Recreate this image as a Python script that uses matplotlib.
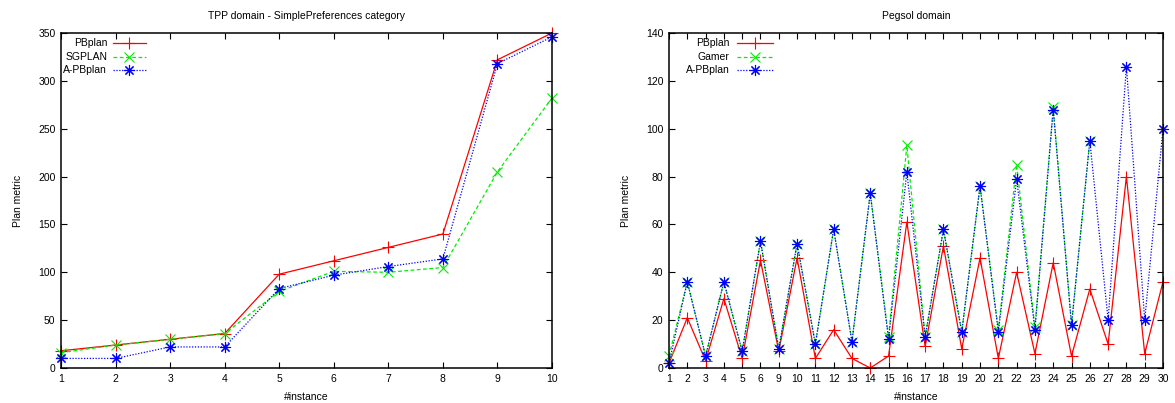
import matplotlib
matplotlib.use("Agg")
import matplotlib.pyplot as plt
import numpy as np

plt.rcParams['font.family'] = ['Liberation Sans', 'DejaVu Sans']
plt.rcParams['font.size'] = 7.5

# TPP domain - SimplePreferences
tpp_instances = [1, 2, 3, 4, 5, 6, 7, 8, 9, 10]
tpp_pbplan = [18, 24, 30, 36, 98, 112, 126, 140, 322, 350]
tpp_sgplan = [16, 24, 30, 36, 80, 101, 100, 105, 205, 282]
tpp_apbplan = [10, 10, 22, 22, 83, 97, 106, 114, 318, 346]

# Pegsol domain (instances 7 and 8 absent)
peg_instances = [1, 2, 3, 4, 5, 6, 9, 10, 11, 12, 13, 14, 15, 16, 17, 18, 19,
                 20, 21, 22, 23, 24, 25, 26, 27, 28, 29, 30]
peg_pbplan = [2, 21, 3, 29, 4, 45, 7, 46, 4, 16, 4, 0, 5, 61, 9, 51, 8,
              46, 4, 40, 6, 44, 5, 33, 10, 80, 6, 36]
peg_gamer = [5, 36, 5, 36, 7, 53, 8, 52, 10, 58, 11, 73, 13, 93, 13, 58, 15,
             76, 16, 85, 17, 109, 18, 95, None, None, None, None]
peg_apbplan = [2, 36, 5, 36, 7, 53, 8, 52, 10, 58, 11, 73, 12, 82, 13, 58, 15,
               76, 15, 79, 16, 108, 18, 95, 20, 126, 20, 100]

RED, GREEN, BLUE = '#ff0000', '#00ee00', '#0000ff'
ASTERISK = (8, 2, 0)

styles = [
    dict(color=RED, ls='-', marker='+', ms=8, mew=0.8),
    dict(color=GREEN, ls=(0, (3, 2)), marker='x', ms=7, mew=0.8),
    dict(color=BLUE, ls=(0, (1, 1.3)), marker=ASTERISK, ms=8, mew=0.8),
]

fig = plt.figure(figsize=(11.75, 4.03), dpi=100)
W, H = 1175, 403


def make_axes(x0, x1, y0, y1):
    return fig.add_axes([x0 / W, 1 - y1 / H, (x1 - x0) / W, (y1 - y0) / H])


def style_axes(ax):
    for s in ax.spines.values():
        s.set_linewidth(1.1)
    ax.tick_params(direction='in', length=4, width=0.8, top=True, right=True,
                   labelsize=7.5, pad=4)


def key(ax, names, text_right, line_l, line_r, rows):
    # gnuplot-style key: right aligned label followed by the line sample
    for name, st, y in zip(names, styles, rows):
        ax.text(text_right, y, name, transform=ax.transAxes, ha='right',
                va='center', fontsize=7.5)
        ax.plot([line_l, line_r], [y, y], transform=ax.transAxes,
                color=st['color'], ls=st['ls'], lw=0.9, clip_on=False)
        ax.plot([(line_l + line_r) / 2], [y], transform=ax.transAxes,
                color=st['color'], ls='none', marker=st['marker'],
                ms=st['ms'], mew=st['mew'], clip_on=False)


# left panel
ax1 = make_axes(61, 552, 33, 368)
for vals, st in zip([tpp_pbplan, tpp_sgplan, tpp_apbplan], styles):
    ax1.plot(tpp_instances, vals, lw=0.9, clip_on=False, **st)
ax1.set_xlim(1, 10)
ax1.set_ylim(0, 350)
ax1.set_xticks(tpp_instances)
ax1.set_yticks(np.arange(0, 351, 50))
ax1.set_title('TPP domain - SimplePreferences category', fontsize=7.5, pad=10)
ax1.set_xlabel('#instance', fontsize=7.5, labelpad=6)
ax1.set_ylabel('Plan metric', fontsize=7.5, labelpad=11)
style_axes(ax1)
key(ax1, ['PBplan', 'SGPLAN', 'A-PBplan'], 0.094, 0.106, 0.173,
    [0.969, 0.927, 0.889])

# right panel
ax2 = make_axes(669, 1163, 33, 368)
pos = np.arange(1, len(peg_instances) + 1)
for vals, st in zip([peg_pbplan, peg_gamer, peg_apbplan], styles):
    y = np.array([np.nan if v is None else v for v in vals], dtype=float)
    ax2.plot(pos, y, lw=0.9, clip_on=False, **st)
ax2.set_xlim(1, len(peg_instances))
ax2.set_ylim(0, 140)
ax2.set_xticks(pos)
ax2.set_xticklabels([str(i) for i in peg_instances])
ax2.set_yticks(np.arange(0, 141, 20))
ax2.set_title('Pegsol domain', fontsize=7.5, pad=10)
ax2.set_xlabel('#instance', fontsize=7.5, labelpad=6)
ax2.set_ylabel('Plan metric', fontsize=7.5, labelpad=11)
style_axes(ax2)
key(ax2, ['PBplan', 'Gamer', 'A-PBplan'], 0.122, 0.137, 0.211,
    [0.969, 0.927, 0.889])

fig.savefig('out.png', dpi=100)
